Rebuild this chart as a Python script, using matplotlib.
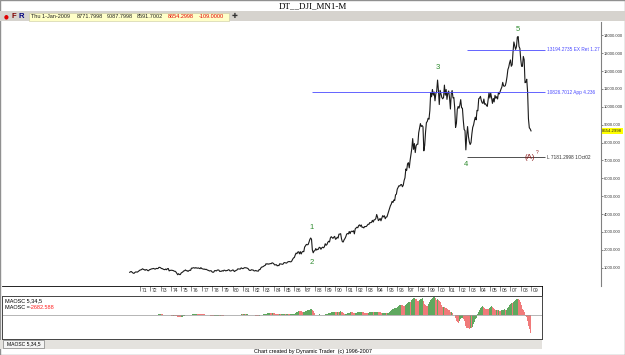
import numpy as np
import matplotlib
matplotlib.use("Agg")
import matplotlib.pyplot as plt
from matplotlib.patches import Rectangle

W, H = 625, 355

# DJI monthly closes, Jan 1970 .. Jan 2009
close_1970s = [
    744, 778, 785, 736, 700, 683, 734, 765, 760, 756, 794, 839,
    869, 878, 904, 941, 908, 891, 858, 898, 887, 839, 831, 890,
    902, 928, 940, 954, 960, 929, 925, 964, 953, 956, 1018, 1020,
    999, 955, 951, 921, 901, 891, 926, 888, 947, 956, 822, 851,
    856, 860, 847, 837, 802, 802, 757, 679, 608, 666, 619, 616,
    704, 739, 768, 821, 832, 879, 832, 835, 794, 836, 860, 852,
    975, 973, 999, 997, 975, 1003, 985, 974, 990, 965, 947, 1005,
    954, 936, 919, 927, 899, 916, 890, 862, 847, 818, 830, 831,
    770, 742, 757, 837, 841, 819, 862, 877, 866, 793, 799, 805,
    839, 809, 862, 854, 822, 842, 846, 888, 878, 816, 822, 839,
]
close_1980s = [
    876, 863, 786, 817, 851, 868, 935, 933, 932, 925, 993, 964,
    947, 975, 1004, 998, 992, 977, 953, 882, 850, 853, 889, 875,
    871, 824, 823, 848, 820, 812, 809, 901, 896, 992, 1039, 1047,
    1076, 1113, 1130, 1226, 1200, 1222, 1199, 1216, 1233, 1225, 1276, 1259,
    1221, 1155, 1165, 1171, 1105, 1132, 1115, 1224, 1207, 1207, 1189, 1212,
    1287, 1284, 1267, 1258, 1315, 1336, 1348, 1334, 1329, 1375, 1472, 1547,
    1571, 1709, 1819, 1784, 1877, 1893, 1775, 1898, 1768, 1878, 1914, 1896,
    2158, 2224, 2305, 2286, 2292, 2419, 2572, 2663, 2596, 1994, 1834, 1939,
    1958, 2072, 1988, 2032, 2031, 2142, 2129, 2032, 2113, 2149, 2115, 2169,
    2342, 2258, 2294, 2419, 2480, 2440, 2661, 2737, 2693, 2645, 2706, 2753,
]
close_1990s = [
    2591, 2627, 2707, 2657, 2877, 2881, 2905, 2614, 2453, 2442, 2560, 2634,
    2736, 2882, 2914, 2888, 3028, 2907, 3025, 3044, 3017, 3069, 2895, 3169,
    3224, 3267, 3236, 3359, 3397, 3319, 3394, 3257, 3272, 3226, 3305, 3301,
    3310, 3371, 3435, 3428, 3527, 3516, 3540, 3651, 3555, 3681, 3684, 3754,
    3978, 3832, 3636, 3682, 3758, 3625, 3765, 3913, 3843, 3908, 3739, 3834,
    3844, 4011, 4158, 4321, 4465, 4556, 4709, 4650, 4789, 4756, 5075, 5117,
    5395, 5486, 5588, 5569, 5643, 5655, 5529, 5616, 5882, 6029, 6522, 6448,
    6813, 6878, 6584, 7009, 7331, 7673, 8223, 7622, 7945, 7442, 7823, 7908,
    7907, 8546, 8800, 9063, 8900, 8952, 8883, 7539, 7843, 8592, 9117, 9181,
    9359, 9307, 9786, 10789, 10560, 10971, 10655, 10829, 10337, 10730, 10878, 11497,
]
close_2000s = [
    10941, 10128, 10922, 10734, 10522, 10448, 10522, 11215, 10651, 10971, 10415, 10787,
    10887, 10495, 9879, 10735, 10912, 10502, 10523, 9950, 8848, 9075, 9852, 10022,
    9920, 10106, 10404, 9946, 9925, 9243, 8737, 8664, 7592, 8397, 8896, 8342,
    8054, 7891, 7992, 8480, 8850, 8985, 9234, 9416, 9275, 9801, 9782, 10454,
    10488, 10584, 10358, 10226, 10188, 10435, 10140, 10174, 10080, 10027, 10428, 10783,
    10490, 10766, 10504, 10193, 10467, 10275, 10641, 10482, 10569, 10440, 10806, 10718,
    10865, 10993, 11109, 11367, 11168, 11150, 11186, 11381, 11679, 12081, 12221, 12463,
    12622, 12269, 12354, 13063, 13628, 13409, 13212, 13358, 13896, 13930, 13372, 13265,
    12650, 12266, 12263, 12820, 12638, 11350, 11378, 11544, 10851, 9325, 8829, 8763.3,
    8654.2998,
]

year_ticks = list(range(1971, 2010))
price_ticks = list(range(1000, 15000, 1000))

levels = [13194.2735, 10826.7012, 7181.2998]
level_start = [2002.75, 1987.75, 2002.75]
level_text = ["13194.2735 EX Ret 1.27", "10826.7012 App 4.236", "L 7181.2998 1Oct02"]
level_color = ["#4a4aff", "#4a4aff", "#333333"]

wave_names = ["1", "2", "3", "4", "5"]
wave_x = [1987.72, 1987.72, 1999.96, 2002.68, 2007.73]
wave_y = [3250, 1280, 12200, 6780, 14320]

header_fields = ["Thu 1-Jan-2009", "8771.7998", "9087.7998", "8591.7002", "8654.2998", "-109.0000"]
maosc_last = -2682.588

close = np.array(close_1970s + close_1980s + close_1990s + close_2000s, dtype=float)
t = 1970 + np.arange(len(close)) / 12.0

# MAOSC 5,34
sma5 = np.convolve(close, np.ones(5) / 5, mode="full")[:len(close)]
sma34 = np.convolve(close, np.ones(34) / 34, mode="full")[:len(close)]
osc = sma5 - sma34
osc[:33] = np.nan
rising = np.r_[False, np.diff(osc) >= 0]

plt.rcParams["font.family"] = ["Liberation Sans", "DejaVu Sans"]


def fx(x):
    return x / W


def fy(y):
    return 1 - y / H


def box(x0, y0, x1, y1, **kw):
    fig.add_artist(Rectangle((fx(x0), fy(y1)), fx(x1 - x0), (y1 - y0) / H,
                             transform=fig.transFigure, **kw))


fig = plt.figure(figsize=(W / 100, H / 100), dpi=100)
fig.patch.set_facecolor("white")

# window chrome
box(0, 0, 625, 355, facecolor="none", edgecolor="#909090", linewidth=1.0)
box(0, 11, 625, 21, facecolor="#d6d3ce", edgecolor="none")
fig.text(fx(313), fy(6), "DT__DJI_MN1-M", fontsize=6.5, family="Liberation Serif",
         ha="center", va="center")
fig.text(fx(3.5), fy(16.5), "\u25cf", fontsize=4, color="#e00000", ha="left", va="center",
         family="DejaVu Sans")
fig.text(fx(11.5), fy(16.5), "F", fontsize=5.5, color="#800000", weight="bold", ha="left", va="center")
fig.text(fx(18.5), fy(16.5), "R", fontsize=5.5, color="#000080", weight="bold", ha="left", va="center")
box(29, 13, 229, 20.5, facecolor="#ffffc8", edgecolor="#c8c8a0", linewidth=0.4)
hx = [31, 77, 107, 137, 168, 199]
for i, s in enumerate(header_fields):
    fig.text(fx(hx[i]), fy(16.8), s, fontsize=4.0, ha="left", va="center",
             color="#e00000" if i >= 4 else "#222222")
fig.text(fx(235), fy(16.5), "\u271a", fontsize=5, ha="center", va="center", color="#333333",
         family="DejaVu Sans")

# main price panel
x_left, x_right = 1957.59, 2015.80
ax = fig.add_axes([fx(2), fy(286), fx(599), 264 / H])
ax.plot(t, close, color="#1a1a1a", linewidth=0.8)
ax.set_xlim(x_left, x_right)
ax.set_ylim(-22, 14745)
for s in ["top", "left", "bottom"]:
    ax.spines[s].set_visible(False)
ax.spines["right"].set_color("#808080")
ax.spines["right"].set_linewidth(0.8)
ax.set_xticks([])
ax.yaxis.tick_right()
ax.set_yticks(price_ticks)
ax.set_yticklabels([f"{v:.3f}" for v in price_ticks])
ax.tick_params(axis="y", length=1.5, width=0.5, pad=0.3, labelsize=3.0,
               colors="#555555", labelcolor="#333333")

level_end = 2010.36
for lv, st, txt, col in zip(levels, level_start, level_text, level_color):
    ax.hlines(lv, st, level_end, color=col, linewidth=0.6)
    ax.text(level_end + 0.2, lv, txt, fontsize=3.4, color=col, ha="left", va="center")

for name, wx, wy in zip(wave_names, wave_x, wave_y):
    ax.text(wx, wy, name, fontsize=5.5, color="#2e8b2e", ha="center", va="center")
ax.text(2008.85, 7170, "(A)", fontsize=5.5, color="#8b1a1a", ha="center", va="center")
ax.text(2009.6, 7420, "?", fontsize=3.5, color="#8b1a1a", ha="center", va="center")

ax.text(1.002, close[-1], f"{close[-1]:.4f}", transform=ax.get_yaxis_transform(),
        fontsize=3.1, ha="left", va="center", color="#222222",
        bbox=dict(boxstyle="square,pad=0.15", facecolor="#ffff00", edgecolor="none"))

# date row
osc_right = 1970 + (542 - 129.7) / 10.29
axd = fig.add_axes([fx(2), fy(296), fx(540), 10 / H])
axd.set_xlim(x_left, osc_right)
axd.set_ylim(0, 1)
axd.set_xticks([])
axd.set_yticks([])
for s in ["left", "bottom"]:
    axd.spines[s].set_visible(False)
axd.spines["top"].set_linewidth(0.6)
axd.spines["right"].set_linewidth(0.6)
axd.vlines(year_ticks, 0.55, 1.0, color="#333333", linewidth=0.4)
for yr in year_ticks:
    axd.text(yr + 0.15, 0.55, f"{yr % 100:02d}", fontsize=3.6, ha="left", va="center",
             color="#333333")

# oscillator panel
axo = fig.add_axes([fx(2), fy(339), fx(540), 43 / H])
cols = np.where(rising, "#5fa85f", "#f07a7a")
axo.bar(t, osc, width=1 / 12, color=cols, linewidth=0)
axo.axhline(0, color="#999999", linewidth=0.5)
lo, hi = np.nanmin(osc), np.nanmax(osc)
axo.set_xlim(x_left, osc_right)
axo.set_ylim(lo * 1.07, hi * 1.0)
axo.set_xticks([])
axo.set_yticks([])
for s in axo.spines.values():
    s.set_linewidth(0.7)
    s.set_color("#444444")
axo.text(0.006, 0.9, "MAOSC 5,34,5", transform=axo.transAxes, fontsize=4, ha="left", va="center")
axo.text(0.006, 0.74, "MAOSC = ", transform=axo.transAxes, fontsize=4, ha="left", va="center")
axo.text(0.052, 0.74, f"{maosc_last:.3f}", transform=axo.transAxes, fontsize=4, ha="left",
         va="center", color="#ff2020")

# tab bar and status line
box(0, 340, 542, 349, facecolor="#e4e2de", edgecolor="none")
box(3, 340, 44, 348, facecolor="#f4f4f4", edgecolor="#666666", linewidth=0.4)
fig.text(fx(23.5), fy(344), "MAOSC 5,34,5", fontsize=3.6, ha="center", va="center")
fig.text(fx(313), fy(352), "Chart created by Dynamic Trader  (c) 1996-2007", fontsize=4,
         ha="center", va="center")

fig.savefig("out.png", dpi=100)
